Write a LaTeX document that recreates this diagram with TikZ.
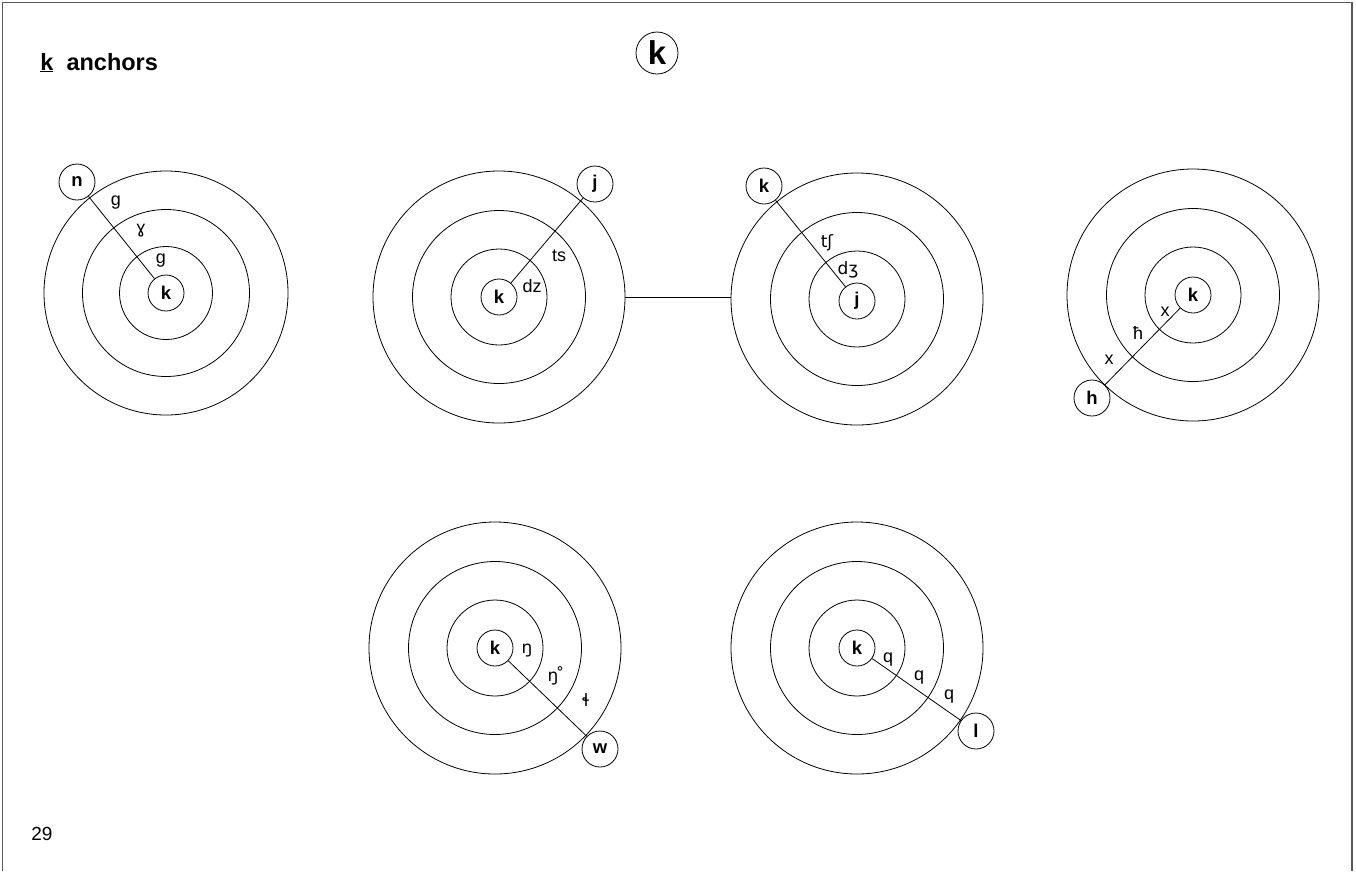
\documentclass[tikz,border=0pt]{standalone}
\usepackage{fontspec}
\setmainfont{Liberation Sans}
\newfontfamily\ipafont{DejaVu Sans}
\usepackage{tikz}

\begin{document}
\begin{tikzpicture}[x=1pt,y=-1pt,line width=0.8pt,
  band/.style={circle,draw,inner sep=0pt,minimum size=#1},
  spot/.style={circle,draw,inner sep=0pt,minimum size=36pt,font=\bfseries\fontsize{18.5}{18.5}\selectfont},
  snd/.style={inner sep=0pt,font=\fontsize{18}{18}\selectfont},
  ipa/.style={inner sep=0pt,font=\ipafont\fontsize{17}{17}\selectfont}]
\useasboundingbox (0,0) rectangle (1356,871) ;
\draw[gray!70!black,line width=1.3pt] (2.5,871) -- (2.5,2.5) -- (1352,2.5) -- (1352,871) ;
% heading
\node[anchor=base west,inner sep=0pt,font=\bfseries\fontsize{23.5}{23.5}\selectfont] (head) at (40,70) {\underline{k}\ \ anchors} ;
\node[circle,draw,inner sep=0pt,minimum size=42pt,font=\bfseries\fontsize{33}{33}\selectfont] (title) at (657,53) {k} ;
\node[anchor=base west,inner sep=0pt,font=\fontsize{19}{19}\selectfont] (page) at (31,840) {29} ;
% n -> k
\node[band=244pt] (A3) at (166,293) {} ;
\node[band=167pt] (A2) at (166,293) {} ;
\node[band=93pt] (A1) at (166,293) {} ;
\node[spot] (kA) at (166,293) {k} ;
\node[spot] (nA) at (77,182) {n} ;
\draw (nA) -- (kA) ;
\node[snd] at (116,203) {g} ;
\node[ipa] at (141,231) {ɣ} ;
\node[snd] at (161,261) {g} ;
% j -> k
\node[band=252pt] (B3) at (499,297) {} ;
\node[band=173pt] (B2) at (499,297) {} ;
\node[band=96pt] (B1) at (499,297) {} ;
\node[spot] (kB) at (499,297) {k} ;
\node[spot] (jB) at (595,184) {j} ;
\draw (jB) -- (kB) ;
\node[snd] at (559,256) {ts} ;
\node[snd] at (532,286) {dz} ;
% k -> j
\node[band=252pt] (C3) at (857,299) {} ;
\node[band=173pt] (C2) at (857,299) {} ;
\node[band=96pt] (C1) at (857,299) {} ;
\node[spot] (jC) at (857,301) {j} ;
\node[spot] (kC) at (764,186) {k} ;
\draw (kC) -- (jC) ;
\node[ipa] at (827,243) {tʃ} ;
\node[ipa] at (848,270) {dʒ} ;
\draw (B3.east) -- (B3.east -| C3.west) ;
% h -> k
\node[band=252pt] (D3) at (1193,295) {} ;
\node[band=173pt] (D2) at (1193,295) {} ;
\node[band=96pt] (D1) at (1193,295) {} ;
\node[spot] (kD) at (1193,295) {k} ;
\node[spot] (hD) at (1092,398) {h} ;
\draw (hD) -- (kD) ;
\node[snd] at (1165,312) {x} ;
\node[snd] at (1138,333) {ħ} ;
\node[snd] at (1109,360) {x} ;
% w -> k
\node[band=252pt] (E3) at (495,648) {} ;
\node[band=173pt] (E2) at (495,648) {} ;
\node[band=96pt] (E1) at (495,648) {} ;
\node[spot] (kE) at (495,648) {k} ;
\node[spot] (wE) at (600,749) {w} ;
\draw (kE) -- (wE) ;
\node[ipa] at (527,650) {ŋ} ;
\node[ipa] at (556,676) {ŋ\kern-2.5pt˚} ;
\node[ipa] at (586,700) {ɬ} ;
% l -> k
\node[band=252pt] (F3) at (857,648) {} ;
\node[band=173pt] (F2) at (857,648) {} ;
\node[band=96pt] (F1) at (857,648) {} ;
\node[spot] (kF) at (857,648) {k} ;
\node[spot] (lF) at (976,731) {l} ;
\draw (kF) -- (lF) ;
\node[snd] at (888,660) {q} ;
\node[snd] at (919,678) {q} ;
\node[snd] at (949,697) {q} ;
\end{tikzpicture}
\end{document}
